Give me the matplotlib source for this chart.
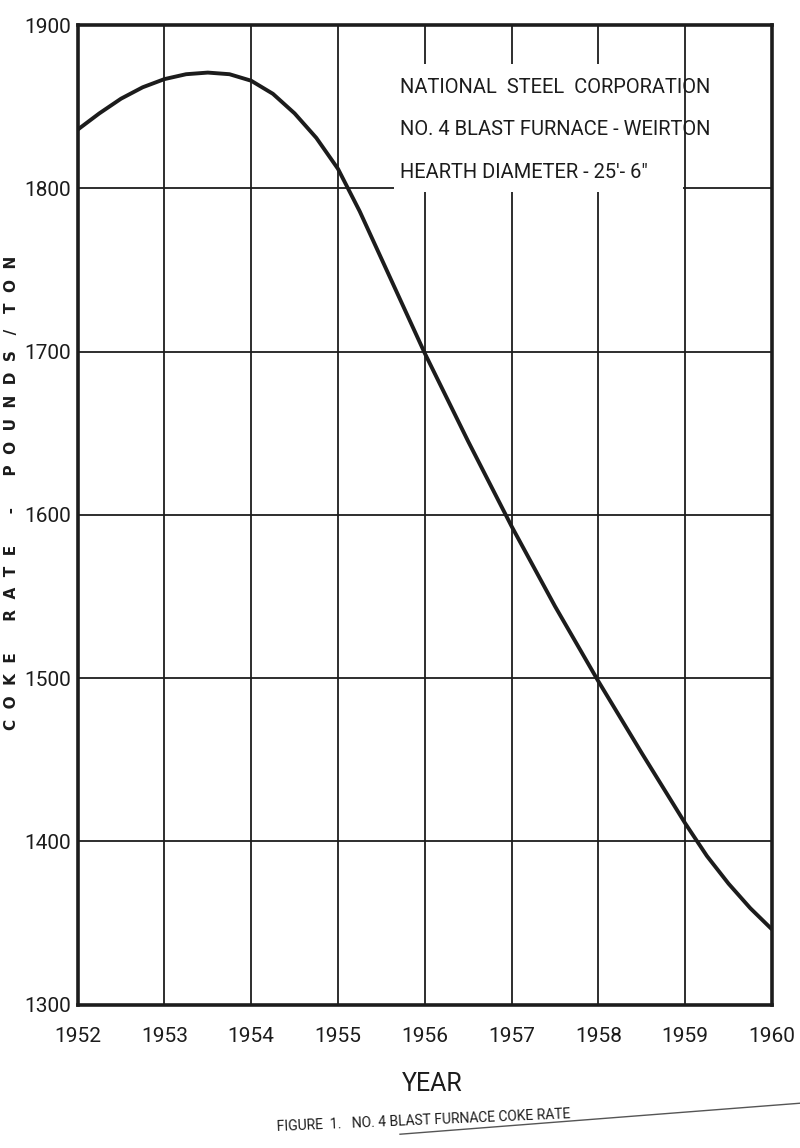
import matplotlib
matplotlib.use('Agg')
import matplotlib.pyplot as plt
from matplotlib import font_manager
from matplotlib.patches import Rectangle
from matplotlib.lines import Line2D

# values
years = [1952, 1952.25, 1952.5, 1952.75, 1953, 1953.25, 1953.5, 1953.75,
         1954, 1954.25, 1954.5, 1954.75, 1955, 1955.25, 1955.5, 1955.75,
         1956, 1956.5, 1957, 1957.5, 1958, 1958.5, 1959, 1959.25,
         1959.5, 1959.75, 1960]
coke_rate = [1836, 1846, 1855, 1862, 1867, 1870, 1871, 1870,
             1866, 1858, 1846, 1831, 1812, 1786, 1757, 1728,
             1699, 1645, 1593, 1544, 1498, 1454, 1411, 1391,
             1374, 1359, 1346]

x_ticks = list(range(1952, 1961))
y_ticks = [1300, 1400, 1500, 1600, 1700, 1800, 1900]
note_lines = ["NATIONAL  STEEL  CORPORATION",
              "NO. 4 BLAST FURNACE - WEIRTON",
              "HEARTH DIAMETER - 25'- 6\""]

names = set(f.name for f in font_manager.fontManager.ttflist)
narrow = 'DejaVu Sans'
for cand in ['Liberation Sans Narrow', 'DejaVu Sans Condensed', 'Roboto', 'DejaVu Sans']:
    if cand in names:
        narrow = cand
        break

ink = '#1c1c1c'

fig = plt.figure(figsize=(8, 11.48), dpi=100)
ax = fig.add_axes([0.097, 0.125, 0.868, 0.853])

ax.plot(years, coke_rate, color=ink, lw=2.8, zorder=5, solid_capstyle='butt')

ax.set_xlim(1952, 1960)
ax.set_ylim(1300, 1900)
ax.set_xticks(x_ticks)
ax.set_yticks(y_ticks)
ax.grid(True, color=ink, lw=1.3, zorder=1)
ax.set_axisbelow(True)
ax.tick_params(length=0)
ax.tick_params(axis='y', pad=5)
ax.tick_params(axis='x', pad=16)
ax.set_xticklabels([str(t) for t in x_ticks], fontfamily=narrow, fontsize=15, color=ink)
ax.set_yticklabels([str(t) for t in y_ticks], fontfamily=narrow, fontsize=15, color=ink)
for s in ax.spines.values():
    s.set_color(ink)
    s.set_linewidth(2.6)

# white block behind the note, gridlines stop at it
ax.add_patch(Rectangle((1955.65, 1798), 3.32, 78, facecolor='white',
                       edgecolor='none', zorder=2))
for i, line in enumerate(note_lines):
    ax.text(1955.72, 1862 - 26 * i, line, fontfamily=narrow, fontsize=14.5,
            color=ink, va='center', ha='left', zorder=3)

fig.text(0.014, 0.571, "C  O  K  E      R  A  T  E      -      P  O  U  N  D  S   /   T  O  N",
         rotation=90, fontsize=11, color=ink, ha='center', va='center',
         fontweight='bold')
fig.text(0.54, 0.056, "YEAR", fontfamily=narrow, fontsize=18, color=ink,
         ha='center', va='center')
fig.text(0.53, 0.024, "FIGURE  1.   NO. 4 BLAST FURNACE COKE RATE",
         fontfamily=narrow, fontsize=10, color=ink, ha='center', va='center',
         rotation=2.5)
fig.add_artist(Line2D([0.5, 1.0], [0.012, 0.039], color='#555555', lw=1.0))

fig.savefig('out.png', dpi=100, facecolor='white')
